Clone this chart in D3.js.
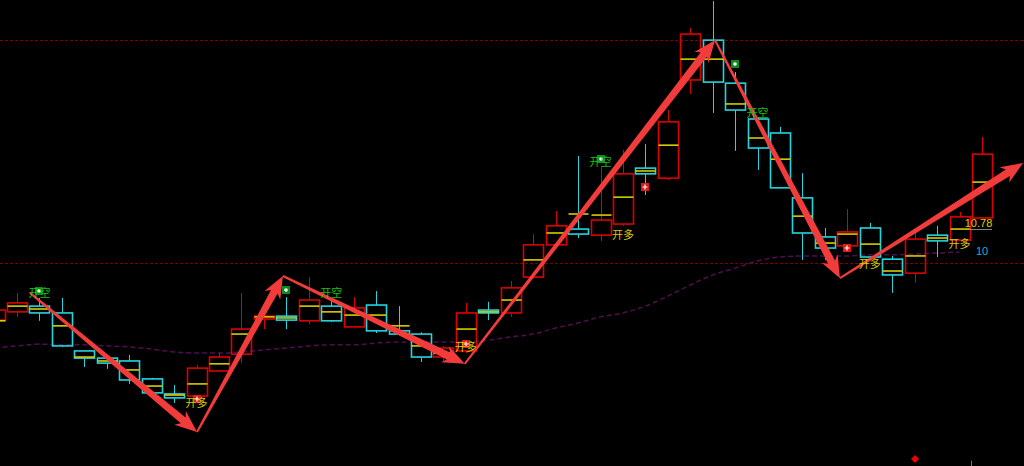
<!DOCTYPE html>
<html>
<head>
<meta charset="utf-8">
<script src="https://cdn.jsdelivr.net/npm/d3@7"></script>
<style>
  html, body { margin: 0; padding: 0; background: #000; }
  svg { display: block; }
  .cjk { font-family: "Noto Sans CJK SC", sans-serif; font-size: 11px; }
</style>
</head>
<body>
<div class="kline-container"></div>
<script>
// candle data (index 0..44)
const openP  = [8.07, 8.30, 8.46, 8.27, 7.21, 7.01, 6.93, 6.43, 6.01, 5.95, 6.65, 7.12, 8.10, 8.18, 8.05,
                8.46, 7.88, 8.49, 7.77, 7.68, 7.04, 7.21, 8.35, 8.27, 9.27, 10.17, 10.61, 10.44, 10.75, 12.31,
                12.03, 14.77, 15.88, 14.68, 13.68, 13.29, 11.48, 10.39, 10.14, 10.64, 9.77, 9.38, 10.44, 10.30, 10.92];
const highP  = [8.46, 8.83, 8.69, 8.69, 7.21, 7.04, 7.10, 6.46, 6.26, 6.82, 7.15, 8.83, 8.55, 8.71, 9.27,
                8.69, 8.71, 8.88, 8.46, 7.73, 7.35, 8.55, 8.58, 9.16, 10.47, 11.11, 12.65, 12.34, 12.82, 12.98,
                13.93, 16.22, 16.97, 14.99, 13.74, 13.46, 12.17, 10.64, 11.17, 10.78, 9.86, 10.50, 10.70, 11.09, 13.18];
const lowP   = [8.02, 8.16, 8.05, 7.32, 6.76, 6.71, 6.29, 5.95, 5.76, 5.79, 6.65, 6.87, 7.82, 7.82, 7.96,
                8.02, 7.88, 7.71, 7.65, 6.90, 6.90, 7.15, 8.07, 8.16, 9.27, 10.17, 10.36, 10.28, 10.70, 11.56,
                11.98, 14.38, 13.85, 12.79, 12.26, 11.76, 9.75, 9.75, 9.97, 9.83, 8.83, 9.11, 9.83, 10.30, 10.92];
const closeP = [8.35, 8.55, 8.27, 7.35, 7.01, 6.87, 6.40, 6.04, 5.90, 6.73, 7.04, 7.82, 8.18, 8.07, 8.63,
                8.05, 8.41, 7.77, 7.68, 7.04, 7.29, 8.27, 8.27, 8.97, 10.17, 10.70, 10.47, 10.86, 12.15, 12.15,
                13.60, 16.05, 14.71, 13.93, 12.87, 11.76, 10.50, 10.08, 10.53, 9.83, 9.33, 10.33, 10.28, 10.95, 12.70];
// yellow average-price tick of each bar
const avgP   = [8.05, 8.46, 8.38, 7.91, 7.04, 6.93, 6.68, 6.23, 5.98, 6.29, 6.85, 7.68, 8.16, 8.13, 8.46,
                8.30, 8.21, 8.21, 7.91, 7.35, 7.15, 7.82, 8.30, 8.63, 9.75, 10.50, 11.03, 11.00, 11.50, 12.23,
                12.95, 15.35, 15.35, 14.10, 13.15, 12.56, 10.97, 10.22, 10.47, 10.19, 9.44, 9.86, 10.36, 10.61, 11.92];
// MA10 (not drawn yet for the last bar)
const maP    = [7.29, 7.35, 7.40, 7.38, 7.38, 7.35, 7.32, 7.26, 7.18, 7.15, 7.15, 7.18, 7.24, 7.29, 7.35,
                7.38, 7.38, 7.43, 7.46, 7.46, 7.46, 7.46, 7.51, 7.60, 7.68, 7.85, 7.99, 8.16, 8.27, 8.46,
                8.74, 9.05, 9.33, 9.52, 9.72, 9.83, 9.86, 9.86, 9.86, 9.89, 9.89, 9.91, 9.94, 9.97];

const levelLines = [15.88, 9.66];
// zigzag turning points [bar index, price]
const zigzag = [[1.58, 8.83], [9.02, 4.95], [12.85, 9.30], [20.95, 6.85], [32.1, 15.88], [37.67, 9.24], [45.83, 12.45]];

const sellMarkIdx = [2, 13, 27, 33];
const sellMarkP   = [8.88, 8.91, 12.56, 15.21];
const buyMarkIdx  = [9, 21, 29, 38];
const buyMarkP    = [5.87, 7.40, 11.78, 10.08];
const sellLabelIdx = [2, 15, 27, 34];
const sellLabelP   = [8.85, 8.85, 12.51, 13.88];
const buyLabelIdx  = [9, 21, 28, 39, 43];
const buyLabelP    = [5.79, 7.35, 10.47, 9.66, 10.22];
const sellText = '开空';
const buyText = '开多';
const lastPrice = 10.78;
const maName = '10';
const maNameP = 10.0;
const diamondIdx = 41, diamondP = 4.20;
const sepIdx = 43.5;

const svg_width = 1024, svg_height = 466;
const upColor = '#dd0000', downColor = '#22d6e0', avgColor = '#d8cc00';

const xScale = d3.scaleLinear().domain([0, 44]).range([-5.4, 982]);
const yScale = d3.scaleLinear().domain([4, 17]).range([svg_height, 0]);

const candles = openP.map((o, i) => ({
  i: i, open: o, high: highP[i], low: lowP[i], close: closeP[i], avg: avgP[i]
}));
const maData = maP.map((m, i) => ({i: i, ma: m}));

const svg = d3.select('.kline-container').append('svg')
  .attr('width', svg_width).attr('height', svg_height)
  .style('background', '#000');

// dotted levels
svg.selectAll('.level').data(levelLines).enter().append('line')
  .attr('class', 'level')
  .attr('x1', 0).attr('x2', svg_width)
  .attr('y1', d => Math.round(yScale(d)) + 0.5).attr('y2', d => Math.round(yScale(d)) + 0.5)
  .attr('stroke', '#800000').attr('stroke-width', 1).attr('stroke-dasharray', '3,2');

// MA line
const maLine = d3.line().x(d => xScale(d.i)).y(d => yScale(d.ma)).curve(d3.curveMonotoneX);
svg.append('path').datum(maData)
  .attr('d', maLine)
  .attr('fill', 'none').attr('stroke', '#4e0f4e').attr('stroke-width', 1.5)
  .attr('stroke-dasharray', '5,3');

// candles
const half = 10;
const g = svg.selectAll('.candle').data(candles).enter().append('g').attr('class', 'candle');
const col = d => d.close >= d.open ? upColor : downColor;
const cx = d => Math.round(xScale(d.i)) + 0.5;

g.append('line')
  .attr('x1', cx).attr('x2', cx)
  .attr('y1', d => yScale(d.high)).attr('y2', d => yScale(Math.max(d.open, d.close)))
  .attr('stroke', col).attr('stroke-width', 1);
g.append('line')
  .attr('x1', cx).attr('x2', cx)
  .attr('y1', d => yScale(Math.min(d.open, d.close))).attr('y2', d => yScale(d.low))
  .attr('stroke', col).attr('stroke-width', 1);
g.append('rect')
  .attr('x', d => cx(d) - half)
  .attr('y', d => yScale(Math.max(d.open, d.close)))
  .attr('width', half * 2)
  .attr('height', d => Math.max(1, yScale(Math.min(d.open, d.close)) - yScale(Math.max(d.open, d.close))))
  .attr('fill', 'none').attr('stroke', col).attr('stroke-width', 1.6);
g.append('line')
  .attr('x1', d => cx(d) - half).attr('x2', d => cx(d) + half)
  .attr('y1', d => yScale(d.avg)).attr('y2', d => yScale(d.avg))
  .attr('stroke', avgColor).attr('stroke-width', 1.6);

// zigzag arrows (tapered)
function arrowPath(p0, p1) {
  const x0 = xScale(p0[0]), y0 = yScale(p0[1]);
  const x1 = xScale(p1[0]), y1 = yScale(p1[1]);
  const len = Math.hypot(x1 - x0, y1 - y0);
  const ux = (x1 - x0) / len, uy = (y1 - y0) / len;
  const nx = -uy, ny = ux;
  const w0 = 1, w1 = 3.8, hl = 22, hw = 9;
  const bx = x1 - ux * hl, by = y1 - uy * hl;
  const nb = 4;
  const pts = [
    [x0 + nx * w0, y0 + ny * w0],
    [bx + nx * w1 + ux * nb, by + ny * w1 + uy * nb],
    [bx + nx * hw, by + ny * hw],
    [x1, y1],
    [bx - nx * hw, by - ny * hw],
    [bx - nx * w1 + ux * nb, by - ny * w1 + uy * nb],
    [x0 - nx * w0, y0 - ny * w0]
  ];
  return 'M' + pts.map(p => p.join(',')).join('L') + 'Z';
}
const arrowPairs = d3.pairs(zigzag);
svg.selectAll('.arrow').data(arrowPairs).enter().append('path')
  .attr('class', 'arrow')
  .attr('d', d => arrowPath(d[0], d[1]))
  .attr('fill', '#f23c3c');

// sell markers
svg.selectAll('.sellmark').data(sellMarkIdx).enter().append('g')
  .attr('transform', (d, k) => `translate(${Math.round(xScale(d))},${Math.round(yScale(sellMarkP[k]))})`)
  .each(function () {
    const s = d3.select(this);
    s.append('rect').attr('x', -4).attr('y', -4).attr('width', 8).attr('height', 8).attr('fill', '#0c8c1c');
    s.append('circle').attr('r', 1.8).attr('fill', '#ffffff');
  });

// buy markers
svg.selectAll('.buymark').data(buyMarkIdx).enter().append('g')
  .attr('transform', (d, k) => `translate(${Math.round(xScale(d))},${Math.round(yScale(buyMarkP[k]))})`)
  .each(function () {
    const s = d3.select(this);
    s.append('rect').attr('x', -4).attr('y', -4).attr('width', 8).attr('height', 8).attr('fill', '#e01818');
    s.append('path').attr('d', 'M-2.5,0H2.5M0,-2.5V2.5').attr('stroke', '#fff').attr('stroke-width', 1.2);
  });

// labels
svg.selectAll('.selllabel').data(sellLabelIdx).enter().append('text')
  .attr('class', 'cjk')
  .attr('x', d => xScale(d)).attr('y', (d, k) => yScale(sellLabelP[k]))
  .attr('text-anchor', 'middle').attr('dominant-baseline', 'central')
  .attr('fill', '#12c012').text(sellText);
svg.selectAll('.buylabel').data(buyLabelIdx).enter().append('text')
  .attr('class', 'cjk')
  .attr('x', d => xScale(d)).attr('y', (d, k) => yScale(buyLabelP[k]))
  .attr('text-anchor', 'middle').attr('dominant-baseline', 'central')
  .attr('fill', '#d8c800').text(buyText);

// last price + MA name
const lastIdx = candles.length - 1;
svg.append('text')
  .attr('x', xScale(lastIdx) - 3.5).attr('y', yScale(lastPrice))
  .attr('text-anchor', 'middle').attr('dominant-baseline', 'central')
  .style('font-family', 'Arial, "Liberation Sans", sans-serif').style('font-size', '11px')
  .attr('fill', '#e0d000').text(lastPrice.toFixed(2));
svg.append('line')
  .attr('x1', xScale(lastIdx) - 13).attr('x2', xScale(lastIdx) + 10)
  .attr('y1', yScale(lastPrice) + 6.5).attr('y2', yScale(lastPrice) + 6.5)
  .attr('stroke', '#888').attr('stroke-width', 1);
svg.append('text')
  .attr('x', xScale(lastIdx) + 0).attr('y', yScale(maNameP))
  .attr('text-anchor', 'middle').attr('dominant-baseline', 'central')
  .style('font-family', 'Arial, "Liberation Sans", sans-serif').style('font-size', '11px')
  .attr('fill', '#1ab4c8').text(maName);

// bottom marks
svg.append('path')
  .attr('transform', `translate(${Math.round(xScale(diamondIdx))},${Math.round(yScale(diamondP))})`)
  .attr('d', 'M0,-4L4,0L0,4L-4,0Z').attr('fill', '#ee0000');
svg.append('line')
  .attr('x1', Math.round(xScale(sepIdx)) + 0.5).attr('x2', Math.round(xScale(sepIdx)) + 0.5)
  .attr('y1', yScale(4.15)).attr('y2', svg_height)
  .attr('stroke', '#777').attr('stroke-width', 1);
</script>
</body>
</html>
